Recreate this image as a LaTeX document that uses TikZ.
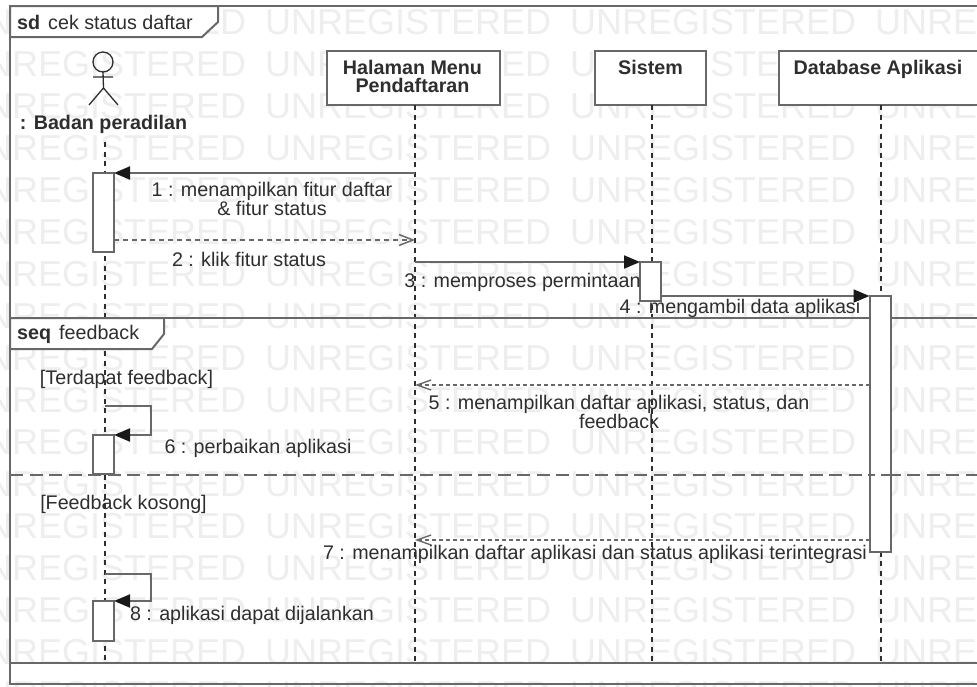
\documentclass[tikz,border=0pt]{standalone}
\usepackage{fontspec}
\setmainfont{Liberation Sans}
\usetikzlibrary{arrows.meta}
\definecolor{wm}{HTML}{EEEEEE}
\definecolor{ln}{HTML}{686868}
\definecolor{txt}{HTML}{2E2E2E}
\tikzset{
  x=1pt,y=-1pt,
  mark text/.style={text=wm,font=\fontsize{36}{36}\selectfont,anchor=west,inner sep=0pt},
  frameline/.style={draw=ln,line width=2pt},
  lifebox/.style={draw=ln,fill=white,line width=2pt,minimum height=54pt,inner sep=0pt,anchor=north,outer sep=0pt},
  boxtitle/.style={text=txt,font=\fontsize{19.7}{17.7}\selectfont\bfseries,align=center,inner sep=0pt},
  lifeline/.style={draw=txt,line width=1.4pt,dash pattern=on 5pt off 4.5pt},
  act/.style={draw=ln,fill=white,line width=2pt,minimum width=21pt,inner sep=0pt,anchor=north,outer sep=0pt},
  msg/.style={draw=ln,line width=2pt,-{Triangle[length=16pt,width=13pt,black!90]}},
  reply/.style={draw=ln,line width=1.8pt,dash pattern=on 5pt off 4pt,-{Straight Barb[length=14pt,width=11pt,line width=1.5pt]}},
  ret/.style={draw=ln,line width=1.4pt,dash pattern=on 3.5pt off 3.5pt,-{Straight Barb[length=14pt,width=10pt,line width=1.4pt]}},
  lbl/.style={text=txt,font=\fontsize{19.7}{17.7}\selectfont,align=center,inner sep=0pt},
  ttl/.style={text=txt,font=\fontsize{19.7}{17.7}\selectfont,anchor=base west,inner sep=0pt},
  bld/.style={text=txt,font=\fontsize{19.7}{17.7}\selectfont\bfseries,anchor=base west,inner sep=0pt}
}
\begin{document}
\begin{tikzpicture}
\useasboundingbox (0,0) rectangle (977,686);
\clip (0,0) rectangle (977,686);
\fill[white] (0,0) rectangle (977,686);
% watermark
\foreach \r in {0,...,16}{
  \foreach \c in {0,...,3}{
    \node[mark text] (w\r-\c) at ({-40+305*\c},{22+42*\r}) {UNREGISTERED};
  }
}
% outer frame
\draw[frameline] (990,6) -- (10,6) -- (10,684) -- (990,684);
\draw[frameline,fill=white] (10,6) -- (218,6) -- (218,22) -- (202,37) -- (10,37) -- cycle;
\node[bld] (sdk) at (17,29) {sd};
\node[ttl] (sdn) at (48,29) {cek status daftar};
% lifeline heads
\node[lifebox,minimum width=173pt] (halaman) at (413.5,51) {};
\node[lifebox,minimum width=111pt] (sistem) at (650.5,51) {};
\node[lifebox,minimum width=204pt] (db) at (881,51) {};
\node[boxtitle,anchor=north] (halamant) at (412.5,60) {Halaman Menu\\Pendaftaran};
\node[boxtitle,anchor=north] (sistemt) at (650.5,60) {Sistem};
\node[boxtitle,anchor=north] (dbt) at (878,60) {Database Aplikasi};
% actor
\node[draw=txt,line width=1.3pt,circle,minimum size=20pt,inner sep=0pt,outer sep=0pt] (head) at (103,62) {};
\coordinate (hip) at (103.5,88);
\coordinate (armL) at (93,77);
\coordinate (armR) at (113,77);
\coordinate (legL) at (89,105);
\coordinate (legR) at (118,105);
\draw[draw=txt,line width=1.3pt] (head.south) -- (hip) (armL) -- (armR) (legL) -- (hip) -- (legR);
\node[boxtitle] (actor) at (103.5,124) {: Badan peradilan};
% lifeline ends
\coordinate (a0) at (105,142);
\coordinate (a1) at (105,663);
\coordinate (h1) at (415,663);
\coordinate (s1) at (652,663);
\coordinate (d1) at (881,663);
\coordinate (h0) at (415,105);
\coordinate (s0) at (652,105);
\coordinate (d0) at (881,105);
\draw[lifeline] (a0) -- (a1);
\draw[lifeline] (h0) -- (h1);
\draw[lifeline] (s0) -- (s1);
\draw[lifeline] (d0) -- (d1);
% combined fragment
\draw[frameline] (990,318) -- (10,318) (10,663) -- (990,663);
\draw[frameline,fill=white] (10,318) -- (164,318) -- (164,334) -- (152,349) -- (10,349) -- cycle;
\node[bld] (seqk) at (17,339) {seq};
\node[ttl] (seqn) at (59,339) {feedback};
\coordinate (altL) at (10,475);
\coordinate (altR) at (990,475);
\draw[draw=ln,line width=1.8pt,dash pattern=on 13pt off 6.5pt] (altL) -- (altR);
% activations
\node[act,minimum height=79pt] (act1) at (103.5,173) {};
\node[act,minimum height=39pt] (act2) at (650.5,262) {};
\node[act,minimum height=256pt] (act3) at (880,296) {};
\node[act,minimum height=39pt] (act4) at (103.5,435) {};
\node[act,minimum height=40pt] (act5) at (103.5,601) {};
% alt divider shows through the tall activation
\draw[draw=ln,line width=1.8pt,dash pattern=on 13pt off 6.5pt,dash phase=8pt] (act3.west|-altL) -- (act3.east|-altL);
% message ends on the lifelines
\coordinate (m1) at (415,173);
\coordinate (m2) at (415,240);
\coordinate (m2s) at (114,240);
\coordinate (m3) at (415,262);
\coordinate (m4) at (661,296);
\coordinate (m5a) at (869.5,385);
\coordinate (m5b) at (415,385);
\coordinate (m7a) at (869.5,540);
\coordinate (m7b) at (415,540);
\coordinate (s6a) at (105,406);
\coordinate (s6b) at (151,406);
\coordinate (s6c) at (151,435);
\coordinate (s8a) at (105,574);
\coordinate (s8b) at (151,574);
\coordinate (s8c) at (151,601);
% messages
\draw[msg] (m1) -- (act1.north east);
\draw[reply] (m2s) -- (m2);
\draw[msg] (m3) -- (act2.north west);
\draw[msg] (m4) -- (act3.north west);
\draw[ret] (m5a) -- (m5b);
\draw[ret] (m7a) -- (m7b);
\draw[msg] (s6a) -- (s6b) -- (s6c) -- (act4.north east);
\draw[msg] (s8a) -- (s8b) -- (s8c) -- (act5.north east);
% labels
\node[lbl] (l1) at (272,199) {1 : menampilkan fitur daftar\\\& fitur status};
\node[lbl] (l2) at (249,259) {2 : klik fitur status};
\node[lbl] (l3) at (522.5,282) {3 : memproses permintaan};
\node[lbl] (l4) at (740,308) {4 : mengambil data aplikasi};
\node[lbl] (l5) at (619,412) {5 : menampilkan daftar aplikasi, status, dan\\feedback};
\node[lbl] (l6) at (258,448) {6 : perbaikan aplikasi};
\node[lbl] (l7) at (595,554) {7 : menampilkan daftar aplikasi dan status aplikasi terintegrasi};
\node[lbl] (l8) at (252,615) {8 : aplikasi dapat dijalankan};
\node[lbl] (g1) at (126.5,379) {[Terdapat feedback]};
\node[lbl] (g2) at (123.5,504) {[Feedback kosong]};
\end{tikzpicture}
\end{document}
